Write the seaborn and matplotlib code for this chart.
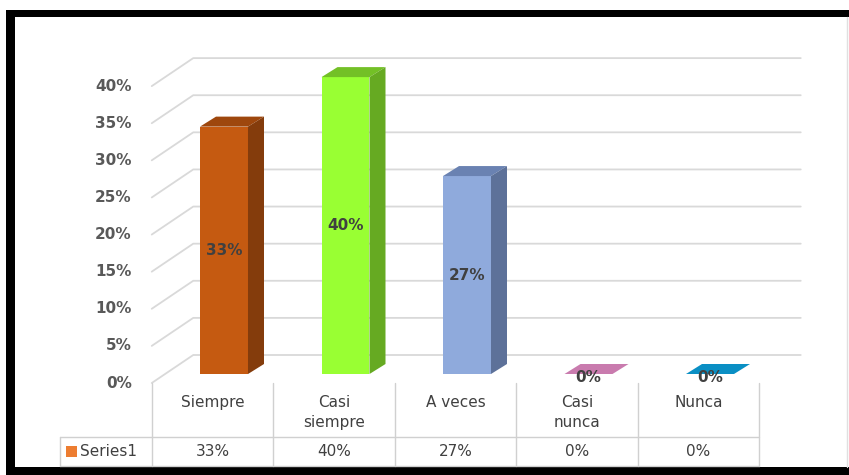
import matplotlib
matplotlib.use("Agg")
import matplotlib.pyplot as plt
import matplotlib.transforms as mtransforms
from matplotlib.patches import Polygon, Rectangle
from matplotlib.lines import Line2D
import seaborn as sns

# data
categories = ["Siempre", "Casi\nsiempre", "A veces", "Casi\nnunca", "Nunca"]
values = [33.33, 40.0, 26.67, 0.0, 0.0]
series_name = "Series1"
yticks = [0, 5, 10, 15, 20, 25, 30, 35, 40]

front_colors = ["#C55A11", "#99FF33", "#8FAADC", "#C97BAE", "#0A8FC4"]
side_colors = ["#843C0C", "#66AA22", "#5D7199", "#8E5479", "#06628A"]
top_colors = ["#9E470D", "#73C026", "#6A82B2", "#C97BAE", "#0A8FC4"]
legend_color = "#ED7D31"

W, H = 849, 475
sns.set_theme(style="white")
plt.rcParams["font.family"] = ["DejaVu Sans"]

fig = plt.figure(figsize=(W / 100, H / 100), dpi=100)
ax = fig.add_axes([163.25 / W, 101 / H, 607.5 / W, 334 / H])

sns.barplot(x=categories, y=values, hue=categories, palette=front_colors,
            width=0.395, saturation=1, legend=False, linewidth=0, ax=ax)
ax.set_xlim(-0.5, 4.5)
ax.set_ylim(0, 45)
ax.axis("off")

ident = mtransforms.IdentityTransform()
grid_c = "#D9D9D9"
txt_c = "#595959"

# depth offsets in pixels (display coords, y up)
FRONT = (-11.5, -9)
BACK = (30, 19)
DEPTH = (16, 10)


def px(x, y, off=(0, 0)):
    X, Y = ax.transData.transform((x, y))
    return X + off[0], Y + off[1]


# back wall grid + diagonal floor/side lines
for v in yticks:
    f = px(-0.5, v, FRONT)
    b = px(-0.5, v, BACK)
    r = px(4.5, v, BACK)
    ax.add_line(Line2D([f[0], b[0], r[0]], [f[1], b[1], r[1]], color=grid_c,
                       lw=1.3, transform=ident, clip_on=False, zorder=0))
    ax.text(f[0] - 20, f[1], f"{v}%", transform=ident, ha="right", va="center",
            fontsize=11, fontweight="bold", color=txt_c)

# 3d faces for the bars
for i, bar in enumerate(ax.patches):
    x0 = bar.get_x()
    x1 = x0 + bar.get_width()
    h = bar.get_height()
    a = px(x0, h)
    b = px(x1, h)
    c = px(x1, 0)
    dx, dy = DEPTH
    top = Polygon([a, b, (b[0] + dx, b[1] + dy), (a[0] + dx, a[1] + dy)],
                  closed=True, facecolor=top_colors[i], edgecolor="none",
                  transform=ident, clip_on=False, zorder=3)
    ax.add_patch(top)
    if h > 0:
        side = Polygon([c, b, (b[0] + dx, b[1] + dy), (c[0] + dx, c[1] + dy)],
                       closed=True, facecolor=side_colors[i], edgecolor="none",
                       transform=ident, clip_on=False, zorder=3)
        ax.add_patch(side)
    lx, ly = px((x0 + x1) / 2, h / 2, (0, -3 if h == 0 else 0))
    ax.text(lx, ly, f"{values[i]:.0f}%", transform=ident, ha="center",
            va="center", fontsize=11, fontweight="bold", color="#404040",
            zorder=5)

# data table below the chart
top_y = px(-0.5, 0, FRONT)[1]
sep_y = top_y - 54
bot_y = top_y - 83
leg_x = 60
edges = [px(i - 0.5, 0, FRONT)[0] for i in range(len(categories) + 1)]
tab_c = "#D0D0D0"
for e in edges:
    fig.add_artist(Line2D([e, e], [top_y, bot_y], color=tab_c, lw=1, transform=ident))
for yy in (sep_y, bot_y):
    fig.add_artist(Line2D([leg_x, edges[-1]], [yy, yy], color=tab_c, lw=1, transform=ident))
fig.add_artist(Line2D([leg_x, leg_x], [sep_y, bot_y], color=tab_c, lw=1, transform=ident))

for i, cat in enumerate(categories):
    cx = (edges[i] + edges[i + 1]) / 2
    fig.text(cx, top_y - 12, cat, transform=ident, ha="center", va="top",
             fontsize=11, color="#404040", linespacing=1.45)
    fig.text(cx, sep_y - 14, f"{values[i]:.0f}%", transform=ident, ha="center",
             va="center", fontsize=11, color="#404040")

fig.add_artist(Rectangle((66, sep_y - 20), 11, 11, facecolor=legend_color,
                         edgecolor="none", transform=ident))
fig.text(80, sep_y - 14, series_name, transform=ident, ha="left", va="center",
         fontsize=11, color="#404040")

# black frame
for (x, y, w, hh) in [(6, H - 17, W - 6, 7), (6, 0, 9, H - 10), (6, 0, W - 6, 8)]:
    fig.add_artist(Rectangle((x, y), w, hh, facecolor="black", edgecolor="none",
                             transform=ident))
fig.add_artist(Line2D([847, 847], [8, H - 17], color="#E0E0E0", lw=1, transform=ident))

fig.savefig("out.png", dpi=100)
plt.close(fig)
